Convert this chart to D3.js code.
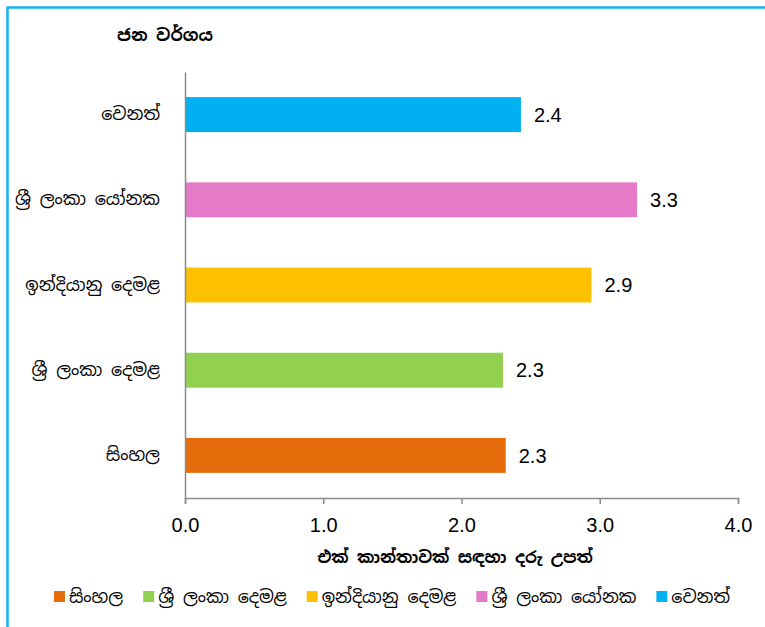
<!DOCTYPE html>
<html><head><meta charset="utf-8">
<script src="https://cdn.jsdelivr.net/npm/d3@7"></script>
<style>
html,body{margin:0;padding:0;background:#fff;}
svg{display:block;}
</style></head>
<body><svg id="c" width="765" height="627"></svg>
<script>
const categories = ["වෙනත්", "ශ්‍රී ලංකා යෝනක", "ඉන්දියානු දෙමළ", "ශ්‍රී ලංකා දෙමළ", "සිංහල"];
const values = [2.43, 3.27, 2.94, 2.30, 2.32];
const valueLabels = ["2.4", "3.3", "2.9", "2.3", "2.3"];
const colors = ["#00b0f0", "#e57bc8", "#ffc000", "#92d050", "#e46c0a"];
const legendOrder = ["සිංහල", "ශ්‍රී ලංකා දෙමළ", "ඉන්දියානු දෙමළ", "ශ්‍රී ලංකා යෝනක", "වෙනත්"];
const xTicks = [0, 1, 2, 3, 4];
const yTitle = "ජන වර්ගය";
const xTitle = "එක් කාන්තාවක් සඳහා දරු උපත්";

const numFont = "'Liberation Sans', Arial, sans-serif";
const sinFont = "'Noto Sans Sinhala', 'Iskoola Pota', 'Noto Sans', sans-serif";

const svg = d3.select("#c");
// frame
svg.append("rect").attr("x", 7.5).attr("y", 7.5).attr("width", 780).attr("height", 640)
  .attr("fill", "none").attr("stroke", "#12b4ec").attr("stroke-width", 2.5);

const x0 = 185, x1 = 738, yTop = 72, yBot = 498;
const x = d3.scaleLinear().domain([0, 4]).range([x0, x1]);
const y = d3.scaleBand().domain(categories).range([yTop, yBot]).paddingInner(0.59).paddingOuter(0.295);
const colorScale = d3.scaleOrdinal().domain(categories).range(colors);

// bars
svg.selectAll("rect.bar").data(categories).enter().append("rect").attr("class", "bar")
  .attr("x", x(0)).attr("y", d => y(d)).attr("width", (d, i) => x(values[i]) - x(0))
  .attr("height", y.bandwidth()).attr("fill", d => colorScale(d));

// value labels
svg.selectAll("text.val").data(categories).enter().append("text").attr("class", "val")
  .attr("x", (d, i) => x(values[i]) + 13).attr("y", d => y(d) + y.bandwidth() / 2)
  .attr("dy", "0.36em").attr("font-family", numFont).attr("font-size", 20).attr("fill", "#000")
  .text((d, i) => valueLabels[i]);

// x axis
const xAxis = d3.axisBottom(x).tickValues(xTicks).tickFormat(d3.format(".1f")).tickSize(6).tickPadding(14);
const gx = svg.append("g").attr("transform", `translate(0,${yBot})`).call(xAxis);
gx.select(".domain").attr("stroke", "#8c8c8c").attr("stroke-width", 1.5);
gx.selectAll(".tick line").attr("stroke", "#8c8c8c").attr("stroke-width", 1.5);
gx.selectAll(".tick text").attr("font-family", numFont).attr("font-size", 20).attr("fill", "#000");

// y axis
const yAxis = d3.axisLeft(y).tickSize(0).tickPadding(25);
const gy = svg.append("g").attr("transform", `translate(${x0},0)`).call(yAxis);
gy.select(".domain").attr("stroke", "#8c8c8c").attr("stroke-width", 1.5);
gy.selectAll(".tick text").attr("font-family", sinFont).attr("font-size", 17.5).attr("fill", "#000");

// titles
svg.append("text").attr("x", 165).attr("y", 35).attr("text-anchor", "middle").attr("dy", "0.35em")
  .attr("font-family", sinFont).attr("font-weight", "bold").attr("font-size", 17).text(yTitle);
svg.append("text").attr("x", 455).attr("y", 557).attr("text-anchor", "middle").attr("dy", "0.35em")
  .attr("font-family", sinFont).attr("font-weight", "bold").attr("font-size", 16.5).text(xTitle);

// legend
const lg = svg.append("g");
const items = lg.selectAll("g.leg").data(legendOrder).enter().append("g").attr("class", "leg");
items.append("rect").attr("x", 0).attr("y", -6).attr("width", 11).attr("height", 11).attr("fill", d => colorScale(d));
items.append("text").attr("x", 15).attr("y", 0).attr("dy", "0.35em").attr("font-family", sinFont)
  .attr("font-size", 17.5).attr("fill", "#000").text(d => d);
let cx = 0;
items.each(function () {
  d3.select(this).attr("transform", `translate(${cx},597)`);
  cx += 15 + this.querySelector("text").getComputedTextLength() + 20;
});
const total = cx - 20;
lg.attr("transform", `translate(${392 - total / 2},0)`);
</script></body></html>
